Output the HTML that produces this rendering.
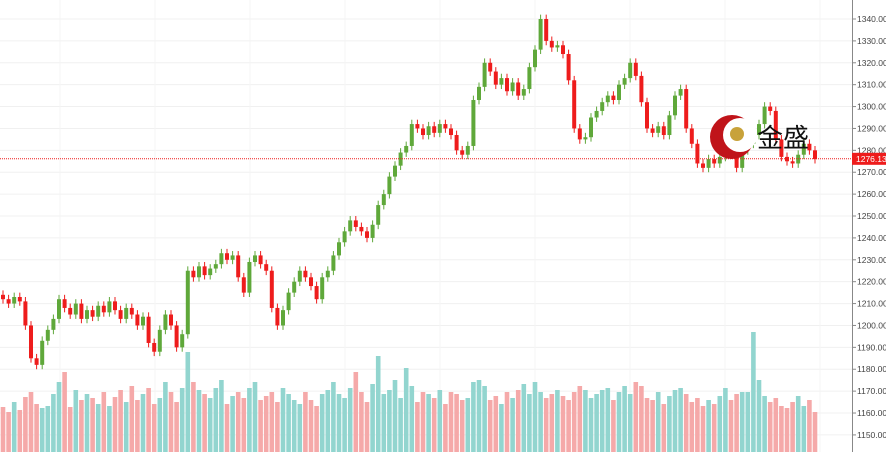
<!DOCTYPE html>
<html><head><meta charset="utf-8"><style>
body{margin:0;background:#fff;overflow:hidden}
svg{display:block;font-family:"Liberation Sans","Noto Sans CJK SC",sans-serif}
</style></head><body>
<svg id="c" width="886" height="452"></svg>
<script>
const closes=[1212,1210,1213,1211,1200,1185,1182,1193,1198,1203,1212,1208,1205,1210,1203,1207,1204,1209,1206,1211,1207,1203,1208,1205,1200,1204,1192,1188,1198,1205,1200,1190,1196,1225,1222,1227,1223,1226,1228,1233,1230,1232,1222,1215,1229,1232,1228,1225,1208,1200,1207,1215,1220,1225,1222,1218,1212,1222,1225,1232,1238,1243,1248,1245,1243,1240,1246,1255,1260,1268,1273,1279,1282,1292,1290,1287,1291,1288,1292,1290,1287,1280,1278,1282,1303,1309,1320,1316,1310,1313,1307,1311,1305,1308,1318,1326,1340,1330,1327,1328,1324,1312,1290,1285,1286,1295,1298,1302,1305,1303,1310,1313,1320,1314,1302,1290,1288,1291,1287,1296,1305,1308,1290,1283,1274,1272,1276,1274,1277,1280,1278,1272,1280,1283,1287,1292,1300,1298,1285,1277,1275,1274,1278,1283,1280,1276];
const firstOpen=1214;
const volumes=[45,40,50,42,55,60,48,44,46,58,70,80,45,62,52,58,54,48,60,46,55,62,50,66,52,58,64,48,54,70,60,50,64,100,70,62,58,54,64,72,48,56,60,54,64,70,52,56,60,50,64,58,52,48,60,52,46,58,62,70,58,54,64,80,60,50,68,96,58,62,72,54,84,66,50,60,58,54,62,48,60,58,52,54,70,72,66,52,56,48,60,54,62,68,58,70,60,54,58,62,56,52,60,66,62,54,58,62,64,52,60,66,58,70,66,54,52,60,48,56,62,64,58,50,54,46,52,48,56,64,52,58,60,60,120,72,56,50,54,46,44,50,56,46,52,40];
const yTicks=[1150,1160,1170,1180,1190,1200,1210,1220,1230,1240,1250,1260,1270,1280,1290,1300,1310,1320,1330,1340];
const lastPrice=1276.13;

const NS="http://www.w3.org/2000/svg";
const svg=document.getElementById('c');
function el(t,a,p){const e=document.createElementNS(NS,t);for(const k in a)e.setAttribute(k,a[k]);(p||svg).appendChild(e);return e;}
const y=v=>19+(1340-v)*2.189;
const x=i=>3+i*5.6;
const vy=v=>452-v;

const grid=el('g',{});


yTicks.forEach(t=>el('line',{x1:0,x2:852,y1:y(t),y2:y(t),stroke:'#f0f0f0','stroke-width':1},grid));
for(let gx=60;gx<852;gx+=95)el('line',{x1:gx,x2:gx,y1:0,y2:452,stroke:'#f5f5f5'},grid);

const vol=el('g',{});


const candles=el('g',{});


closes.forEach((c,i)=>{
  const o=i?closes[i-1]:firstOpen;
  const up=c>=o;
  const b=el('rect',{x:x(i)-2.3,y:vy(volumes[i]),width:4.6,height:volumes[i],fill:up?'#92d5cf':'#f5a9a9'},vol);
  
  
  const col=up?'#5fa83a':'#ee1c1c';
  const hi=Math.max(o,c)+2, lo=Math.min(o,c)-2;
  el('line',{x1:x(i),x2:x(i),y1:y(hi),y2:y(lo),stroke:col,'stroke-width':1},candles);
  const top=y(Math.max(o,c)),h=Math.max(1,Math.abs(y(o)-y(c)));
  const r=el('rect',{x:x(i)-2,y:top,width:4,height:h,fill:col},candles);
  
  
});

const ax=el('g',{});


el('rect',{x:852,y:0,width:34,height:452,fill:'#fff'},ax);
el('line',{x1:852.5,x2:852.5,y1:0,y2:452,stroke:'#888'},ax);
yTicks.forEach(t=>{
  el('line',{x1:852,x2:856,y1:y(t),y2:y(t),stroke:'#888'},ax);
  const tx=el('text',{x:857,y:y(t)+3,'font-size':8.5,fill:'#444'},ax);
  tx.textContent=t.toFixed(2);
  
  
});
const pl=el('line',{x1:0,x2:852,y1:y(lastPrice),y2:y(lastPrice),stroke:'#ee1c1c','stroke-dasharray':'1,1','stroke-width':1});


el('rect',{x:852,y:y(lastPrice)-6,width:34,height:12,fill:'#ee1c1c'});
const pt=el('text',{x:856,y:y(lastPrice)+3,'font-size':8.5,fill:'#fff'});
pt.textContent=lastPrice.toFixed(2);



const logo=el('g',{});


el('circle',{cx:732,cy:137,r:22,fill:'#c0141a'},logo);
el('circle',{cx:740,cy:135,r:17,fill:'#fff'},logo);
el('circle',{cx:737,cy:134,r:7,fill:'#c8a23a'},logo);
const lt=el('text',{x:757,y:147,'font-size':26,fill:'#111','font-family':'"Noto Sans CJK SC",sans-serif'},logo);
lt.textContent='金盛';
</script>
</body></html>
